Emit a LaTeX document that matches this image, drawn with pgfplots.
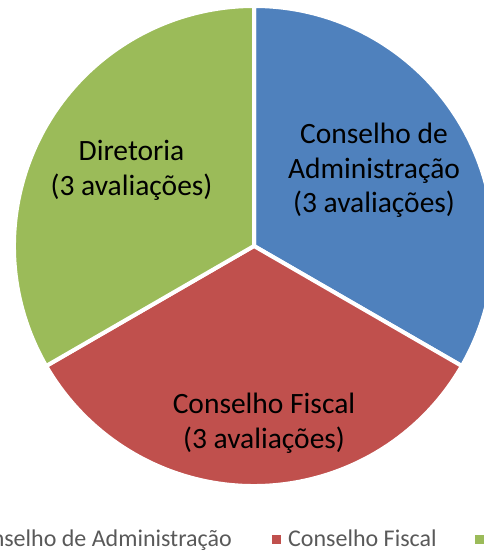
\documentclass[border=0pt]{standalone}
\usepackage{pgfplots}
\usepackage{pgfplotstable}
\pgfplotsset{compat=1.18}
\usepackage{fontspec}
\setmainfont{Carlito}

\definecolor{cblue}{HTML}{4F81BD}
\definecolor{cred}{HTML}{C0504D}
\definecolor{cgreen}{HTML}{9BBB59}
\definecolor{legtext}{HTML}{595959}

% slices, clockwise from 12 o'clock
\pgfplotstableread{
value color
3 cblue
3 cred
3 cgreen
}\piedata

\begin{document}
\begin{tikzpicture}
\pgfplotstablegetrowsof{\piedata}
\pgfmathtruncatemacro\lastrow{\pgfplotsretval-1}
\def\total{0}
\pgfplotsforeachungrouped \i in {0,...,\lastrow}{%
  \pgfplotstablegetelem{\i}{value}\of\piedata
  \pgfmathsetmacro\total{\total+\pgfplotsretval}%
}
\path[use as bounding box, clip] (0,0) rectangle (484bp,552bp);
\begin{axis}[
    at={(0,0)}, anchor=south west,
    scale only axis, width=484bp, height=552bp,
    xmin=0, xmax=484, ymin=0, ymax=552,
    hide axis, clip=false]
  \def\curang{90}
  \pgfplotsforeachungrouped \i in {0,...,\lastrow}{%
    \pgfplotstablegetelem{\i}{value}\of\piedata \let\v\pgfplotsretval
    \pgfplotstablegetelem{\i}{color}\of\piedata \let\c\pgfplotsretval
    \pgfmathsetmacro\endang{\curang-360*\v/\total}%
    \edef\temp{\noexpand\fill[\c, draw=white, line width=4bp]
      (axis cs:254,306) -- ++(\curang:240bp)
      arc[start angle=\curang, end angle=\endang, radius=240bp] -- cycle;}%
    \temp
    \let\curang\endang
  }
  % slice labels
  \begin{scope}[every node/.style={font=\fontsize{29.5bp}{35bp}\selectfont, anchor=base, inner sep=0pt}]
    \node at (axis cs:374,408) {Conselho de};
    \node at (axis cs:374,373.5) {Administração};
    \node at (axis cs:374,339) {(3 avaliações)};
    \node at (axis cs:264,138) {Conselho Fiscal};
    \node at (axis cs:264,103) {(3 avaliações)};
    \node at (axis cs:131.5,391) {Diretoria};
    \node at (axis cs:131.5,356) {(3 avaliações)};
  \end{scope}
  % legend
  \begin{scope}[every node/.style={font=\fontsize{24bp}{29bp}\selectfont, text=legtext, inner sep=0pt}]
    \fill[cblue] (axis cs:-50,8) rectangle (axis cs:-41,17);
    \node[anchor=base east] at (axis cs:232,6) {Conselho de Administração};
    \fill[cred] (axis cs:272,8) rectangle (axis cs:281,17);
    \node[anchor=base west] at (axis cs:288,6) {Conselho Fiscal};
    \fill[cgreen] (axis cs:475,8) rectangle (axis cs:484,17);
    \node[anchor=base west] at (axis cs:491,6) {Diretoria};
  \end{scope}
\end{axis}
\end{tikzpicture}
\end{document}
